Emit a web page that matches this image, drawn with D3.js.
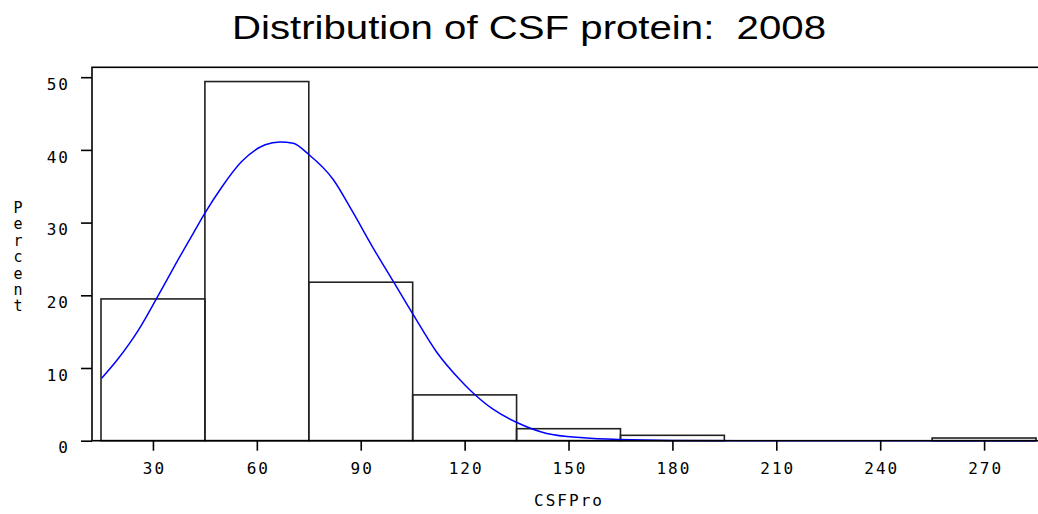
<!DOCTYPE html>
<meta charset="utf-8">

<style>
  body { margin: 0; background: #fff; }
  .bar { fill: none; stroke: #222; stroke-width: 1.6px; }
  .curve { fill: none; stroke: #0000ff; stroke-width: 1.5px; }
  .lbl { font-family: "DejaVu Sans Mono", "Liberation Mono", monospace; font-size: 16px; fill: #000; }
</style>

<body>
  <div id="chart"></div>

  <script src="https://d3js.org/d3.v7.min.js"></script>
  <script>

    // histogram bins (midpoints) and percents
    var binMids = [30, 60, 90, 120, 150, 180, 210, 240, 270];
    var binWidth = 30;
    var percents = [19.5, 49.4, 21.8, 6.3, 1.65, 0.74, 0, 0, 0.37];

    // fitted normal curve (CSFPro, percent)
    var curveX = [15.2, 20.0, 25.8, 31.1, 36.9, 42.2, 45.0, 49.9, 55.6, 62.4, 66.7, 70.5, 74.9, 82.1, 87.4, 93.6, 99.4, 105.2, 111.9, 118.7, 121.6, 128.3, 135.1, 143.7, 154.3, 164.9, 180, 200, 230, 260, 285];
    var curveY = [8.6, 11.3, 15.2, 19.6, 24.6, 29.0, 31.3, 34.9, 38.4, 40.7, 41.1, 40.9, 39.4, 35.9, 31.7, 26.5, 21.9, 17.3, 12.2, 8.35, 6.95, 4.3, 2.5, 1.0, 0.4, 0.15, 0.03, 0, 0, 0, 0];

    var xTicks = [30, 60, 90, 120, 150, 180, 210, 240, 270];
    var yTicks = [0, 10, 20, 30, 40, 50];

    var chartW = 1038, chartH = 514;
    var plotL = 92, plotR = 1044, plotT = 67.3, plotB = 440.7;

    var svg = d3.select("#chart")
      .append("svg")
      .attr("width", chartW)
      .attr("height", chartH);

    var x = d3.scaleLinear().domain([12.4, 287.3]).range([plotL, plotR]);
    var y = d3.scaleLinear().domain([0, 51.36]).range([plotB, plotT]);

    // title
    svg.append("text")
      .attr("x", 232)
      .attr("y", 39)
      .attr("textLength", 594)
      .attr("lengthAdjust", "spacingAndGlyphs")
      .style("white-space", "pre")
      .style("font-family", "'Liberation Sans', Arial, sans-serif")
      .style("font-size", "33px")
      .text("Distribution of CSF protein:  2008");

    // bars
    svg.selectAll(".bar")
      .data(binMids.map(function (m, i) { return { mid: m, p: percents[i] }; }))
      .enter().append("rect")
      .attr("class", "bar")
      .attr("x", function (d) { return x(d.mid - binWidth / 2); })
      .attr("width", function (d) { return x(d.mid + binWidth / 2) - x(d.mid - binWidth / 2); })
      .attr("y", function (d) { return y(d.p); })
      .attr("height", function (d) { return y(0) - y(d.p); });

    // normal curve
    var pts = curveX.map(function (v, i) { return [v, curveY[i]]; });
    svg.append("path")
      .datum(pts)
      .attr("class", "curve")
      .attr("d", d3.line()
        .x(function (d) { return x(d[0]); })
        .y(function (d) { return y(d[1]); })
        .curve(d3.curveMonotoneX));

    // frame
    svg.append("rect")
      .attr("x", plotL)
      .attr("y", plotT)
      .attr("width", plotR - plotL)
      .attr("height", plotB - plotT)
      .style("fill", "none")
      .style("stroke", "#000")
      .style("stroke-width", "1.6px");

    // y axis
    var yAxis = svg.append("g")
      .attr("transform", "translate(" + plotL + ",0)")
      .call(d3.axisLeft(y).tickValues(yTicks).tickSize(11).tickFormat(d3.format("d")));
    yAxis.select(".domain").remove();
    yAxis.attr("font-family", null).attr("font-size", null);
    yAxis.selectAll(".tick line").style("stroke", "#000").style("stroke-width", "1.6px");
    yAxis.selectAll(".tick text")
      .attr("class", "lbl")
      .attr("x", -22)
      .attr("y", -3)
      .attr("dy", "0.95em")
      .style("letter-spacing", "2px");

    // x axis
    var xAxis = svg.append("g")
      .attr("transform", "translate(0," + plotB + ")")
      .call(d3.axisBottom(x).tickValues(xTicks).tickSize(10).tickFormat(d3.format("d")));
    xAxis.select(".domain").remove();
    xAxis.attr("font-family", null).attr("font-size", null);
    xAxis.selectAll(".tick line").style("stroke", "#000").style("stroke-width", "1.6px");
    xAxis.selectAll(".tick text")
      .attr("class", "lbl")
      .attr("y", 22)
      .attr("dy", "0.71em")
      .attr("dx", 1)
      .style("letter-spacing", "2px");

    // x axis label
    svg.append("text")
      .attr("class", "lbl")
      .attr("x", (plotL + plotR) / 2 + 1)
      .attr("y", 506)
      .attr("text-anchor", "middle")
      .style("letter-spacing", "2px")
      .text("CSFPro");

    // y axis label, stacked letters
    svg.append("g")
      .selectAll("text")
      .data("Percent".split(""))
      .enter().append("text")
      .attr("class", "lbl")
      .attr("x", 18)
      .attr("y", function (d, i) { return 213 + i * 16.4; })
      .attr("text-anchor", "middle")
      .style("font-size", "15px")
      .text(function (d) { return d; });

  </script>
</body>
